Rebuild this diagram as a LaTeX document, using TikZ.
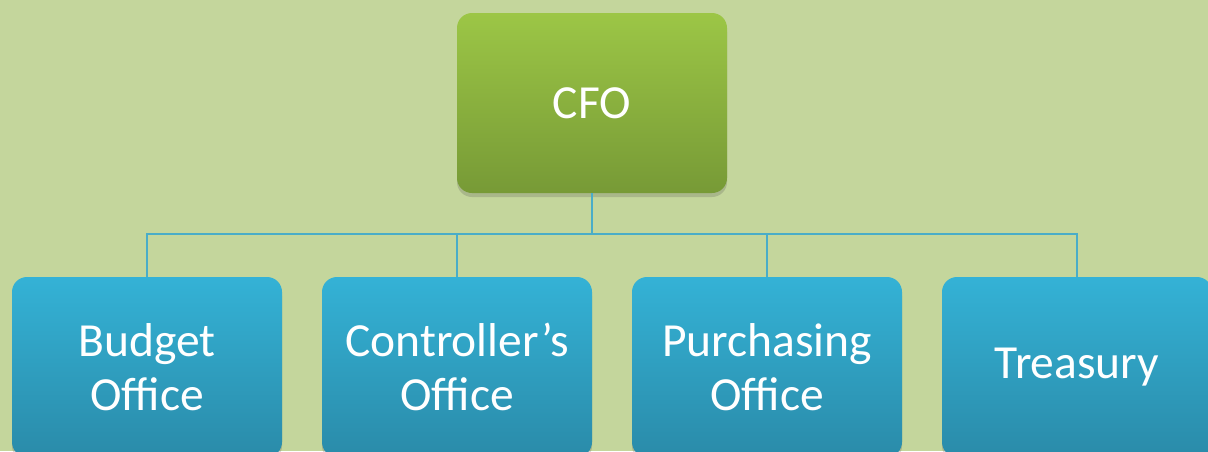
\documentclass[tikz,border=0pt]{standalone}
\usepackage{fontspec}
\setmainfont{Carlito}
\usetikzlibrary{shadows}
\definecolor{bg}{HTML}{C4D69C}
\definecolor{gtop}{HTML}{9CC646}
\definecolor{gbot}{HTML}{779A36}
\definecolor{btop}{HTML}{34B2D6}
\definecolor{bbot}{HTML}{2A8BA9}
\definecolor{line}{HTML}{4AADC8}
\tikzset{
  box/.style={rounded corners=15pt, minimum width=270pt, inner sep=0pt,
    text=white, align=center, font=\fontsize{47.5}{54}\selectfont,
    drop shadow={shadow xshift=0pt, shadow yshift=-4pt, opacity=0.22, fill=black!70}},
  topbox/.style={box, minimum height=180pt, top color=gtop, bottom color=gbot},
  subbox/.style={box, minimum height=180pt, top color=btop, bottom color=bbot},
  conn/.style={draw=line, line width=2pt}
}
\begin{document}
\begin{tikzpicture}[x=1pt,y=-1pt]
\useasboundingbox (0,0) rectangle (1208,451);
\fill[bg] (0,0) rectangle (1208,451);
\begin{scope}
\clip (0,0) rectangle (1208,451);
\coordinate (bus) at (0,234);
\node[topbox] (cfo) at (592,103) {CFO};
\node[subbox] (b1) at (147,367) {Budget\\Office};
\node[subbox] (b2) at (457,367) {Controller’s\\Office};
\node[subbox] (b3) at (767,367) {Purchasing\\Office};
\node[subbox] (b4) at (1077,367) {Treasury};
\draw[conn] (cfo.south) -- (cfo.south |- bus);
\draw[conn] (b1.north) -- (b1.north |- bus) -- (b4.north |- bus) -- (b4.north);
\draw[conn] (b2.north) -- (b2.north |- bus);
\draw[conn] (b3.north) -- (b3.north |- bus);
\end{scope}
\end{tikzpicture}
\end{document}
